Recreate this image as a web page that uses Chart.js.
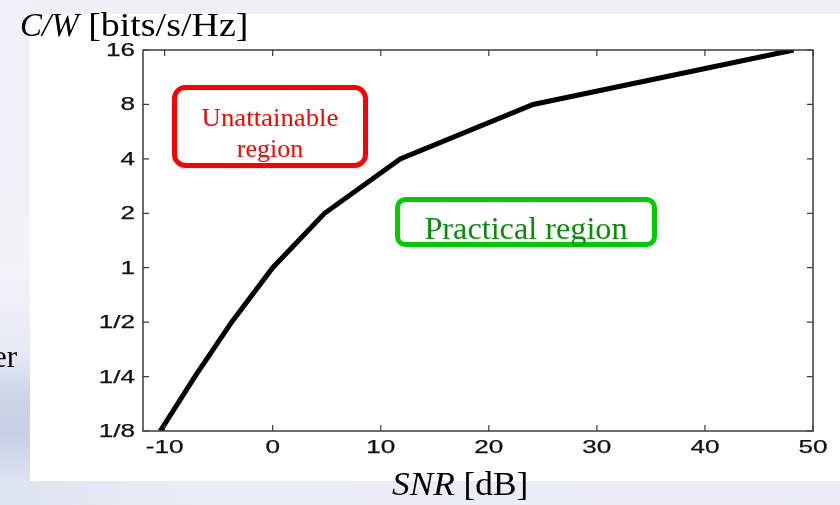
<!DOCTYPE html>
<html>
<head>
<meta charset="utf-8">
<script src="https://cdn.jsdelivr.net/npm/chart.js@4/dist/chart.umd.min.js"></script>
<style>
  html, body { margin: 0; padding: 0; }
  body {
    width: 840px; height: 505px; position: relative; overflow: hidden;
    background: #eef0f8;
  }
  #leftStrip {
    position: absolute; left: 0; top: 0; width: 30px; height: 505px;
    background: linear-gradient(to bottom, #eef1f8 0%, #f1f3f9 55%, #e6eaf4 70%, #cdd5e8 78%, #c6cfe4 86%, #d9dfee 93%, #e8ecf5 100%);
  }
  #bottomStrip {
    position: absolute; left: 0; top: 481px; width: 840px; height: 24px;
    background: linear-gradient(to right, #dde3f0 0%, #e8ecf6 20%, #ebeef7 100%);
  }
  #panel {
    position: absolute; left: 30px; top: 14px; width: 810px; height: 467px;
    background: #ffffff;
  }
  #chart { position: absolute; left: 0; top: 0; }
</style>
</head>
<body>
<div id="leftStrip"></div>
<div id="bottomStrip"></div>
<div id="panel"></div>
<canvas id="chart" width="840" height="505"></canvas>
<script>
// Shannon limit (corner points of the curve)
var snr_db = [-10.4, -7.2, -3.8, 0, 4.8, 11.8, 24.1, 48.2]
var capacity = [0.125, 0.25, 0.5, 1, 2, 4, 8, 16]

var x_ticks = [-10, 0, 10, 20, 30, 40, 50]
var y_ticks = [0.125, 0.25, 0.5, 1, 2, 4, 8, 16]
var y_tick_labels = ['1/8', '1/4', '1/2', '1', '2', '4', '8', '16']

var sans = '"Liberation Sans", Arial, sans-serif'
var serif = '"Liberation Serif", "Times New Roman", serif'

function roundBox(ctx, x, y, w, h, r) {
  ctx.beginPath()
  ctx.moveTo(x + r, y)
  ctx.arcTo(x + w, y, x + w, y + h, r)
  ctx.arcTo(x + w, y + h, x, y + h, r)
  ctx.arcTo(x, y + h, x, y, r)
  ctx.arcTo(x, y, x + w, y, r)
  ctx.closePath()
  ctx.stroke()
}

// text stretched sideways, like the slide picture
function wideText(ctx, txt, x, y, sx, bold) {
  ctx.save()
  ctx.translate(x, y)
  ctx.scale(sx, 1)
  ctx.fillText(txt, 0, 0)
  if (bold) {
    ctx.lineWidth = bold
    ctx.strokeStyle = ctx.fillStyle
    ctx.strokeText(txt, 0, 0)
  }
  ctx.restore()
}

// frame, inward ticks, tick labels, region boxes and slide texts
var decor = {
  id: 'decor',
  afterDraw: function (chart) {
    var ctx = chart.ctx
    var a = chart.chartArea
    var xs = chart.scales.x
    var ys = chart.scales.y
    ctx.save()

    ctx.strokeStyle = '#3c3c3c'
    ctx.lineWidth = 1.5
    ctx.strokeRect(a.left, a.top, a.right - a.left, a.bottom - a.top)
    ctx.lineWidth = 1.2
    ctx.beginPath()
    x_ticks.forEach(function (v) {
      var px = xs.getPixelForValue(v)
      ctx.moveTo(px, a.bottom); ctx.lineTo(px, a.bottom - 6)
      ctx.moveTo(px, a.top); ctx.lineTo(px, a.top + 6)
    })
    y_ticks.forEach(function (v) {
      var py = ys.getPixelForValue(v)
      ctx.moveTo(a.left, py); ctx.lineTo(a.left + 6, py)
      ctx.moveTo(a.right, py); ctx.lineTo(a.right - 6, py)
    })
    ctx.stroke()

    // tick labels
    ctx.fillStyle = '#111111'
    ctx.font = '18px ' + sans
    ctx.textBaseline = 'middle'
    ctx.textAlign = 'center'
    x_ticks.forEach(function (v) {
      wideText(ctx, String(v), xs.getPixelForValue(v), a.bottom + 17, 1.45, 0.25)
    })
    ctx.textAlign = 'right'
    y_ticks.forEach(function (v, i) {
      wideText(ctx, y_tick_labels[i], a.left - 8, ys.getPixelForValue(v) + 1, 1.45, 0.25)
    })

    // Unattainable region box
    ctx.textBaseline = 'alphabetic'
    ctx.strokeStyle = '#ff0000'
    ctx.lineWidth = 5
    roundBox(ctx, 174.5, 87.5, 191, 78, 11)
    ctx.fillStyle = '#ff0000'
    ctx.font = '26px ' + serif
    ctx.textAlign = 'center'
    wideText(ctx, 'Unattainable', 270, 126, 1.03)
    ctx.fillText('region', 270, 157)

    // Practical region box
    ctx.strokeStyle = '#00cc00'
    roundBox(ctx, 397.5, 199.5, 257, 45, 8)
    ctx.fillStyle = '#0a8c0a'
    ctx.font = '31px ' + serif
    wideText(ctx, 'Practical region', 526, 239, 1.04)

    // axis titles (slide text)
    ctx.fillStyle = '#000000'
    ctx.textAlign = 'left'
    ctx.font = 'italic 33px ' + serif
    ctx.fillText('C/W', 20, 36)
    var w = ctx.measureText('C/W').width
    ctx.font = '33px ' + serif
    wideText(ctx, ' [bits/s/Hz]', 20 + w, 36, 1.15)

    ctx.font = 'italic 33px ' + serif
    wideText(ctx, 'SNR', 392, 495, 1.07)
    w = ctx.measureText('SNR').width * 1.07
    ctx.font = '33px ' + serif
    wideText(ctx, ' [dB]', 392 + w, 495, 1.07)

    ctx.font = '31px ' + serif
    ctx.textAlign = 'right'
    ctx.fillText('er', 17, 367)
    ctx.restore()
  }
}

var ctx_chart = document.getElementById('chart').getContext('2d')

var config_chart = {
  type: 'line',
  data: {
    datasets: [{
      data: snr_db.map(function (s, i) { return { x: s, y: capacity[i] } }),
      borderColor: '#000000',
      borderWidth: 5,
      pointRadius: 0,
      fill: false,
      tension: 0
    }]
  },
  options: {
    responsive: false,
    animation: false,
    devicePixelRatio: 1,
    layout: { padding: { left: 0, top: 50, right: 27, bottom: 44 } },
    plugins: { legend: { display: false }, tooltip: { enabled: false } },
    scales: {
      x: {
        type: 'linear', min: -12, max: 50,
        afterBuildTicks: function (s) { s.ticks = x_ticks.map(function (v) { return { value: v } }) },
        afterFit: function (s) { s.height = 30 },
        grid: { display: false, drawTicks: false },
        border: { display: false },
        ticks: { display: false }
      },
      y: {
        type: 'logarithmic', min: 0.125, max: 16,
        afterBuildTicks: function (s) { s.ticks = y_ticks.map(function (v) { return { value: v } }) },
        afterFit: function (s) { s.width = 143 },
        grid: { display: false, drawTicks: false },
        border: { display: false },
        ticks: { display: false }
      }
    }
  },
  plugins: [decor]
}
var graph_chart = new Chart(ctx_chart, config_chart)
</script>
</body>
</html>
